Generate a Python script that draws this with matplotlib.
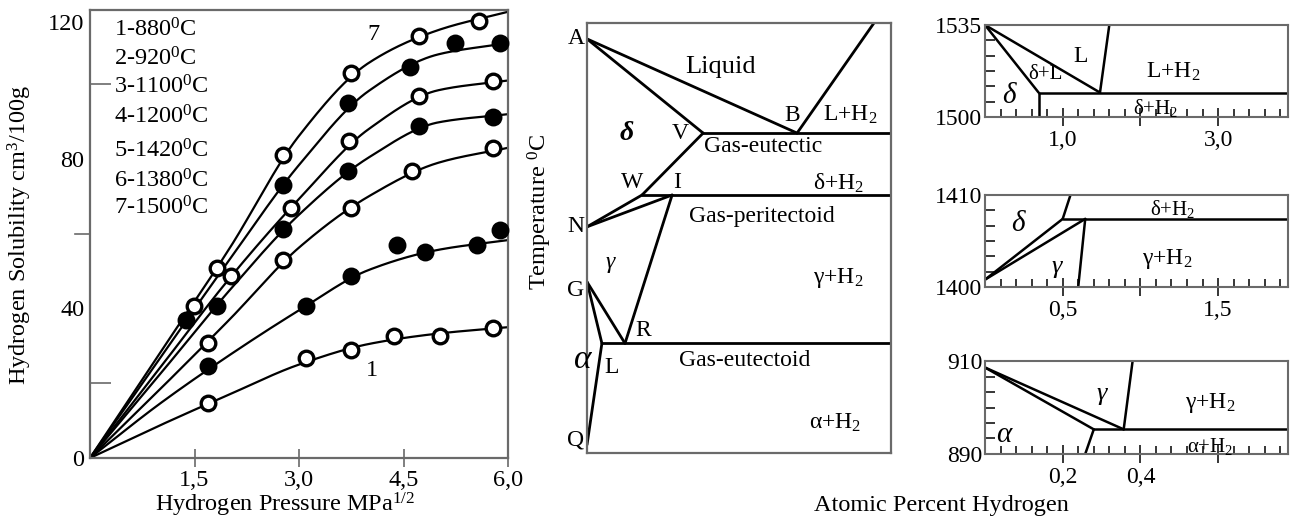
import numpy as np
import matplotlib
matplotlib.use("Agg")
import matplotlib.pyplot as plt
import matplotlib.transforms as mtransforms
from matplotlib.ticker import FixedLocator

plt.rcParams['font.family'] = ['Liberation Serif', 'DejaVu Serif']
plt.rcParams['mathtext.fontset'] = 'custom'
plt.rcParams['mathtext.rm'] = 'Liberation Serif'
plt.rcParams['mathtext.it'] = 'Liberation Serif:italic'

# ---------------- hydrogen solubility isotherms ----------------
isotherm_labels = ['1-880$^0$C', '2-920$^0$C', '3-1100$^0$C', '4-1200$^0$C',
                   '5-1420$^0$C', '6-1380$^0$C', '7-1500$^0$C']

# smoothed isotherm lines (sqrt-pressure -> solubility)
line_x = [0, 1, 2, 3, 4, 5, 6]
line_1 = [0, 8.7, 17.0, 25.0, 30.5, 33.3, 35.0]
line_2 = [0, 14.5, 27.5, 39.5, 50.3, 55.7, 58.3]
line_3 = [0, 18.3, 37.0, 56.3, 70.0, 79.0, 83.0]
line_4 = [0, 22.3, 44.8, 65.1, 80.4, 89.8, 92.0]
line_5 = [0, 24.0, 48.0, 69.3, 88.0, 98.4, 101.0]
line_6 = [0, 26.6, 53.0, 78.4, 98.2, 108.0, 111.0]
line_7 = [0, 28.0, 56.0, 86.2, 105.7, 114.5, 119.4]

# measured points
pts_1_x = [1.70, 3.10, 3.74, 4.37, 5.03, 5.79]
pts_1_y = [14.7, 26.8, 28.9, 32.6, 32.6, 34.8]
pts_2_x = [1.70, 3.10, 3.74, 4.40, 4.81, 5.56, 5.89]
pts_2_y = [24.6, 40.7, 48.7, 57.0, 55.0, 57.0, 61.0]
pts_3_x = [1.70, 2.77, 3.74, 4.62, 5.79]
pts_3_y = [30.8, 53.0, 66.9, 76.9, 83.0]
pts_4_x = [1.82, 2.77, 3.71, 4.72, 5.79]
pts_4_y = [40.7, 61.3, 76.8, 88.8, 91.2]
pts_5_x = [2.03, 2.89, 3.72, 4.72, 5.79]
pts_5_y = [48.7, 66.9, 84.8, 96.9, 100.9]
pts_6_x = [1.38, 2.77, 3.71, 4.60, 5.24, 5.89]
pts_6_y = [36.9, 73.0, 95.0, 104.7, 111.0, 111.0]
pts_7_x = [1.49, 1.82, 2.77, 3.74, 4.72, 5.58]
pts_7_y = [40.7, 50.8, 81.0, 103.0, 113.0, 117.0]
pts_filled = [False, True, False, True, False, True, False]

x_tick_vals = [1.5, 3.0, 4.5, 6.0]
x_tick_text = ['1,5', '3,0', '4,5', '6,0']
y_tick_vals = [0, 40, 80, 120]


def smooth(xs, ys, n=200):
    """Monotone cubic (Fritsch-Carlson) path through the knots."""
    xs = np.asarray(xs, float)
    ys = np.asarray(ys, float)
    h = np.diff(xs)
    d = np.diff(ys) / h
    m = np.zeros_like(ys)
    m[0], m[-1] = d[0], d[-1]
    for i in range(1, len(xs) - 1):
        if d[i - 1] * d[i] <= 0:
            m[i] = 0
        else:
            w1 = 2 * h[i] + h[i - 1]
            w2 = h[i] + 2 * h[i - 1]
            m[i] = (w1 + w2) / (w1 / d[i - 1] + w2 / d[i])
    xx = np.linspace(xs[0], xs[-1], n)
    idx = np.clip(np.searchsorted(xs, xx) - 1, 0, len(xs) - 2)
    t = (xx - xs[idx]) / h[idx]
    h00 = 2 * t**3 - 3 * t**2 + 1
    h10 = t**3 - 2 * t**2 + t
    h01 = -2 * t**3 + 3 * t**2
    h11 = t**3 - t**2
    yy = (h00 * ys[idx] + h10 * h[idx] * m[idx] + h01 * ys[idx + 1]
          + h11 * h[idx] * m[idx + 1])
    return xx, yy


W, H = 1290, 521
fig = plt.figure(figsize=(W / 100, H / 100), dpi=100)


def rect(l, t, r, b):
    return [l / W, 1 - b / H, (r - l) / W, (b - t) / H]


FS = 17.5
frame_col = '#6a6a6a'

ax1 = fig.add_axes(rect(90, 9.5, 508, 458))
lines = [line_1, line_2, line_3, line_4, line_5, line_6, line_7]
pxs = [pts_1_x, pts_2_x, pts_3_x, pts_4_x, pts_5_x, pts_6_x, pts_7_x]
pys = [pts_1_y, pts_2_y, pts_3_y, pts_4_y, pts_5_y, pts_6_y, pts_7_y]
for ly, px, py, filled in zip(lines, pxs, pys, pts_filled):
    sx, sy = smooth(line_x, ly)
    ax1.plot(sx, sy, color='black', lw=1.6, zorder=2)
    ax1.plot(px, py, 'o', ms=10.5, mec='black', mew=2.4,
             mfc='black' if filled else 'white', zorder=3, clip_on=False)

ax1.set_xlim(0, 6)
ax1.set_ylim(0, 120)
ax1.set_xticks(x_tick_vals)
ax1.set_xticklabels(x_tick_text, fontsize=FS)
ax1.set_yticks(y_tick_vals)
ax1.set_yticklabels([str(v) for v in y_tick_vals], fontsize=FS)
ax1.tick_params(axis='x', direction='inout', length=13, width=1.2,
                color=frame_col, pad=2)
ax1.tick_params(axis='y', direction='in', length=0, pad=4)
ax1.yaxis.set_minor_locator(FixedLocator([20, 40, 80, 100]))
ax1.tick_params(axis='y', which='minor', direction='in', length=15,
                width=1.2, color=frame_col)
# the single outward tick at 60
ax1.plot([-0.21, 0], [60, 60], color=frame_col, lw=1.2, clip_on=False)
for s in ax1.spines.values():
    s.set_color(frame_col)
    s.set_linewidth(1.6)
# top label sits a little below the frame corner
top_lab = ax1.get_yticklabels()[-1]
top_lab.set_transform(top_lab.get_transform() +
                      mtransforms.ScaledTranslation(0, -12 / 100,
                                                    fig.dpi_scale_trans))

leg_y = [30, 59, 87, 117, 151, 181, 208]
for lab, yy in zip(isotherm_labels, leg_y):
    fig.text(114 / W, 1 - yy / H, lab, fontsize=FS, ha='left', va='center')
ax1.text(4.07, 113.2, '7', fontsize=FS, ha='center', va='center')
ax1.text(4.05, 23.5, '1', fontsize=FS, ha='center', va='center')

fig.text(20 / W, 1 - 235 / H, 'Hydrogen Solubility cm$^3$/100g',
         fontsize=FS, rotation=90, ha='center', va='center')
fig.text(285 / W, 1 - 505 / H, 'Hydrogen Pressure MPa$^{1/2}$',
         fontsize=FS, ha='center', va='center')

# ---------------- schematic Fe-H phase diagram ----------------
pt_A = (0, 96.3)
pt_B = (69.1, 74.4)
pt_V = (38.2, 74.4)
pt_Btop = (94.4, 100)
pt_W = (18.1, 60.0)
pt_I = (28.0, 60.0)
pt_N = (0, 52.6)
pt_R = (12.5, 25.5)
pt_G = (0, 39.8)
pt_L = (4.9, 25.5)
pt_Q = (0, 1.9)
eutectic_T = 74.4
peritectoid_T = 60.0
eutectoid_T = 25.5

ax2 = fig.add_axes(rect(587, 23, 891, 453))
ax2.set_xlim(0, 100)
ax2.set_ylim(0, 100)
ax2.set_xticks([])
ax2.set_yticks([])
for s in ax2.spines.values():
    s.set_color(frame_col)
    s.set_linewidth(1.6)

segs = [(pt_A, pt_B), (pt_A, pt_V), (pt_B, pt_Btop),
        (pt_V, (100, eutectic_T)), (pt_V, pt_W),
        (pt_W, (100, peritectoid_T)), (pt_N, pt_W), (pt_N, pt_I),
        (pt_I, pt_R), (pt_G, pt_R), (pt_G, pt_L),
        (pt_L, (100, eutectoid_T)), (pt_L, pt_Q)]
for p, q in segs:
    ax2.plot([p[0], q[0]], [p[1], q[1]], color='black', lw=2.0,
             solid_capstyle='round')

F2 = 17
txt2 = [
    ('A', -0.6, 96.3, 'right', 'normal', F2),
    ('Liquid', 43.8, 89.8, 'center', 'normal', 19),
    ('B', 67.4, 78.6, 'center', 'normal', F2),
    ('L+H$_2$', 86.5, 78.6, 'center', 'normal', F2),
    ('V', 30.6, 74.4, 'center', 'normal', F2),
    ('Gas-eutectic', 57.9, 71.2, 'center', 'normal', F2),
    ('δ+H$_2$', 82.6, 62.8, 'center', 'normal', F2),
    ('W', 14.8, 62.8, 'center', 'normal', F2),
    ('I', 29.6, 62.8, 'center', 'normal', F2),
    ('N', -0.8, 52.6, 'right', 'normal', F2),
    ('Gas-peritectoid', 57.6, 54.9, 'center', 'normal', F2),
    ('γ', 7.6, 44.2, 'center', 'italic', F2),
    ('γ+H$_2$', 82.6, 40.7, 'center', 'normal', F2),
    ('G', -0.8, 37.9, 'right', 'normal', F2),
    ('R', 18.4, 28.6, 'center', 'normal', F2),
    ('L', 8.2, 19.8, 'center', 'normal', F2),
    ('Gas-eutectoid', 52.0, 21.6, 'center', 'normal', F2),
    ('α+H$_2$', 81.6, 7.0, 'center', 'normal', F2),
    ('Q', -0.8, 3.0, 'right', 'normal', F2),
]
for s, x, y, ha, st, fs in txt2:
    ax2.text(x, y, s, ha=ha, va='center', fontsize=fs, style=st,
             clip_on=False)
ax2.text(13.2, 74.4, 'δ', ha='center', va='center', fontsize=20,
         style='italic', fontweight='bold')
ax2.text(-1.3, 21.6, 'α', ha='center', va='center', fontsize=24,
         style='italic', clip_on=False)
fig.text(540 / W, 1 - 212 / H, 'Temperature $^0$C', fontsize=FS,
         rotation=90, ha='center', va='center')
fig.text(941 / W, 1 - 506 / H, 'Atomic Percent Hydrogen', fontsize=FS,
         ha='center', va='center')

# ---------------- enlarged details ----------------
FS3 = 17


def detail_axes(r, xmax, ymin, ymax, xmaj, xlab, xminor_step):
    ax = fig.add_axes(r)
    ax.set_xlim(0, xmax)
    ax.set_ylim(ymin, ymax)
    ax.set_xticks(xmaj)
    ax.set_xticklabels(xlab, fontsize=FS3)
    ax.xaxis.set_minor_locator(FixedLocator(
        np.arange(xminor_step, xmax, xminor_step)))
    ax.tick_params(axis='x', which='major', direction='inout', length=13,
                   width=1.1, color='black', pad=3)
    ax.tick_params(axis='x', which='minor', direction='in', length=6,
                   width=1.1, color='black')
    ax.set_yticks([ymin, ymax])
    ax.set_yticklabels([str(ymin), str(ymax)], fontsize=FS3)
    ax.tick_params(axis='y', which='major', length=0, pad=2)
    ax.yaxis.set_minor_locator(FixedLocator(
        np.linspace(ymin, ymax, 7)[1:-1]))
    ax.tick_params(axis='y', which='minor', direction='in', length=7,
                   width=1.1, color='black')
    for s in ax.spines.values():
        s.set_color(frame_col)
        s.set_linewidth(1.5)
    return ax


def seg(ax, p, q):
    ax.plot([p[0], q[0]], [p[1], q[1]], color='black', lw=1.8,
            solid_capstyle='round')


# delta / liquid region
liq_top = (0, 1535)
liq_B = (1.48, 1509.3)
liq_V = (0.69, 1509.3)
liq_right = (1.60, 1535)
ax3 = detail_axes(rect(985, 25, 1288, 117), 3.9, 1500, 1535,
                  [1, 2, 3], ['1,0', '', '3,0'], 0.2)
seg(ax3, liq_top, liq_B)
seg(ax3, liq_top, liq_V)
seg(ax3, liq_V, (liq_V[0], 1500))
seg(ax3, liq_V, (3.9, liq_V[1]))
seg(ax3, liq_B, liq_right)
ax3.text(1.23, 1523, 'L', fontsize=FS3, ha='center', va='center')
ax3.text(2.42, 1517.3, 'L+H$_2$', fontsize=FS3, ha='center', va='center')
ax3.text(0.78, 1516, 'δ+L', fontsize=15, ha='center', va='center')
ax3.text(0.31, 1507.8, 'δ', fontsize=21, style='italic', ha='center',
         va='center')
ax3.text(2.2, 1503.4, 'δ+H$_2$', fontsize=15, ha='center', va='center')

# delta / gamma region
per_origin = (0, 1400.8)
per_W = (0.50, 1407.4)
per_I = (0.645, 1407.4)
per_top = (0.55, 1410)
per_bottom = (0.60, 1400)
ax4 = detail_axes(rect(985, 195, 1288, 287), 1.95, 1400, 1410,
                  [0.5, 1.0, 1.5], ['0,5', '', '1,5'], 0.1)
seg(ax4, per_origin, per_W)
seg(ax4, per_origin, per_I)
seg(ax4, per_W, per_top)
seg(ax4, per_W, (1.95, per_W[1]))
seg(ax4, per_I, per_bottom)
ax4.text(0.21, 1406.9, 'δ', fontsize=21, style='italic', ha='center',
         va='center')
ax4.text(1.21, 1408.5, 'δ+H$_2$', fontsize=15, ha='center', va='center')
ax4.text(0.46, 1402.2, 'γ', fontsize=19, style='italic', ha='center',
         va='center')
ax4.text(1.17, 1403, 'γ+H$_2$', fontsize=FS3, ha='center', va='center')

# gamma / alpha region
eut_origin = (0, 908.6)
eut_L = (0.28, 895.3)
eut_R = (0.357, 895.3)
eut_top = (0.38, 910)
eut_bottom = (0.258, 890)
ax5 = detail_axes(rect(985, 361, 1288, 454), 0.78, 890, 910,
                  [0.2, 0.4, 0.6], ['0,2', '0,4', ''], 0.04)
seg(ax5, eut_origin, eut_L)
seg(ax5, eut_origin, eut_R)
seg(ax5, eut_L, (0.78, eut_L[1]))
seg(ax5, eut_L, eut_bottom)
seg(ax5, eut_R, eut_top)
ax5.text(0.30, 903, 'γ', fontsize=19, style='italic', ha='center',
         va='center')
ax5.text(0.58, 900.9, 'γ+H$_2$', fontsize=FS3, ha='center', va='center')
ax5.text(0.049, 894, 'α', fontsize=21, style='italic', ha='center',
         va='center')
ax5.text(0.58, 891.6, 'α+H$_2$', fontsize=15, ha='center', va='center')

fig.savefig('out.png', dpi=100)
